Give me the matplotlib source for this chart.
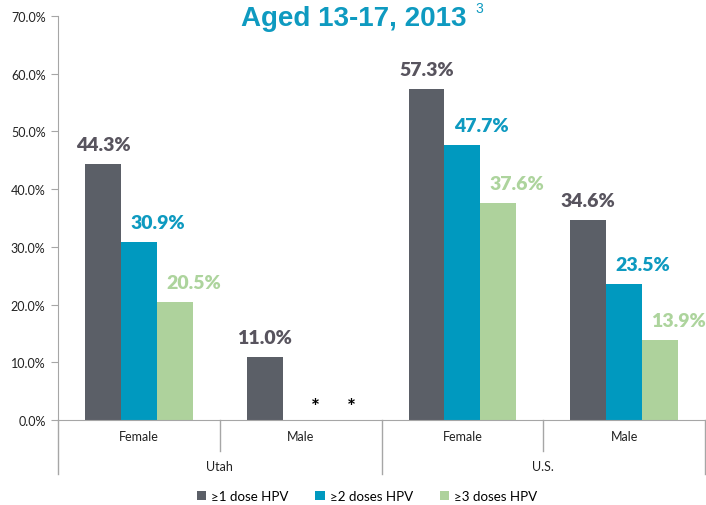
import matplotlib
matplotlib.use("Agg")
import matplotlib.pyplot as plt
from matplotlib.patches import Patch
from matplotlib.transforms import blended_transform_factory

# --- DATA ---
groups = ["Utah", "U.S."]
categories = ["Female", "Male", "Female", "Male"]
series_names = ["\u22651 dose HPV", "\u22652 doses HPV", "\u22653 doses HPV"]
dose1 = [44.3, 11.0, 57.3, 34.6]
dose2 = [30.9, None, 47.7, 23.5]
dose3 = [20.5, None, 37.6, 13.9]
yticks = [0, 10, 20, 30, 40, 50, 60, 70]

# --- STYLE ---
bar_colors = ["#5B5F67", "#0099BF", "#AED29C"]
label_colors = ["#58545E", "#0E9AC0", "#ADD49D"]
FONT = ["Lato", "DejaVu Sans"]
plt.rcParams["font.family"] = FONT

fig = plt.figure(figsize=(7.06, 5.06), dpi=100)
W, H = 706, 506
ax = fig.add_axes([58 / W, (H - 421) / H, (705 - 58) / W, (421 - 17) / H])

bw = 0.222
offsets = [-bw, 0, bw]
series = [dose1, dose2, dose3]
for s, (vals, off) in enumerate(zip(series, offsets)):
    for i, v in enumerate(vals):
        x = i + off
        if v is None:
            # no data: just an asterisk
            ax.text(x + 0.09, 0.6, "*", ha="center", va="bottom", fontsize=15,
                    fontweight="bold", color="black")
            continue
        ax.bar(x, v, width=bw, color=bar_colors[s], linewidth=0)
        # labels for 2nd/3rd series sit a bit to the right, like the original
        lx = x if s == 0 else x + 0.115
        ax.text(lx, v + 1.9, f"{v:.1f}%", ha="center", va="bottom",
                fontsize=14, fontweight="heavy", color=label_colors[s])

ax.set_xlim(-0.5, 3.5)
ax.set_ylim(0, 70)
ax.set_yticks(yticks)
ax.set_yticklabels([f"{t:.1f}%" for t in yticks], fontsize=9, color="#222222")
ax.set_xticks([])
for sp in ["top", "right"]:
    ax.spines[sp].set_visible(False)
ax.spines["left"].set_color("#A6A6A6")
ax.spines["bottom"].set_color("#A6A6A6")
ax.tick_params(axis="y", length=5, color="#A6A6A6", pad=4)

# category axis separators and labels
tr = blended_transform_factory(ax.transData, ax.transAxes)
short = -31 / 404
long_ = -54 / 404
for xs, y0 in [(-0.5, long_), (0.5, short), (1.5, long_), (2.5, short), (3.5, long_)]:
    ax.plot([xs, xs], [0, y0], color="#A6A6A6", lw=1, transform=tr, clip_on=False)
for i, c in enumerate(categories):
    ax.text(i, -16 / 404, c, ha="center", va="center", fontsize=9,
            color="#222222", transform=tr)
for g, name in enumerate(groups):
    ax.text(g * 2 + 0.5, -46 / 404, name, ha="center", va="center",
            fontsize=9, color="#222222", transform=tr)

# title with superscript
fig.text(241 / W, 1 - 26 / H, "Aged 13-17, 2013", fontsize=20, fontweight="bold",
         color="#0E9AC0", family=["Liberation Sans", "DejaVu Sans"], va="baseline")
fig.text(475 / W, 1 - 13 / H, "3", fontsize=10, color="#0E9AC0",
         family=["Liberation Sans", "DejaVu Sans"], va="baseline")

handles = [Patch(facecolor=c, edgecolor="none") for c in bar_colors]
fig.legend(handles, series_names, loc="center", bbox_to_anchor=(367 / W, 1 - 497 / H),
           ncol=3, frameon=False, fontsize=9.6, handlelength=0.7, handleheight=0.7,
           handletextpad=0.4, columnspacing=2.0)

fig.savefig("out.png", dpi=100)
